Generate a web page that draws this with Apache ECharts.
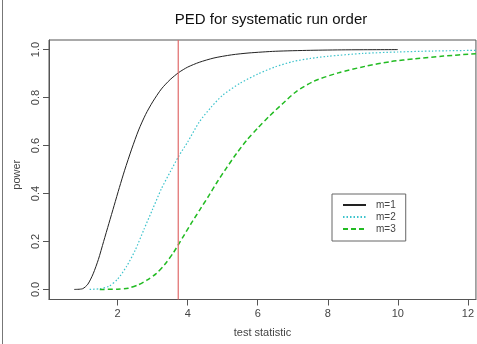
<!DOCTYPE html>
<html>
<head>
<meta charset="utf-8">
<script src="https://cdn.jsdelivr.net/npm/echarts@6/dist/echarts.min.js"></script>
<style>
  html, body { margin: 0; padding: 0; background: #fff; }
  #chart { width: 477px; height: 344px; }
</style>
</head>
<body>
<div id="chart"></div>
<script>
// values
const m1X = [0.76, 1.0, 1.15, 1.3, 1.45, 1.6, 1.75, 1.9, 2.05, 2.2, 2.4, 2.6, 2.8, 3.0, 3.25, 3.5, 3.75, 4.0, 4.33, 4.75, 5.25, 5.75, 6.5, 7.5, 8.5, 10];
const m1Y = [0, 0.003, 0.022, 0.065, 0.125, 0.2, 0.275, 0.35, 0.425, 0.497, 0.585, 0.665, 0.73, 0.782, 0.836, 0.875, 0.905, 0.927, 0.947, 0.965, 0.978, 0.986, 0.993, 0.997, 0.999, 1.0];

const m2X = [1.2, 1.5, 1.75, 2.0, 2.25, 2.5, 2.75, 3.0, 3.25, 3.5, 3.75, 4.0, 4.33, 4.67, 5.0, 5.5, 6.0, 6.5, 7.0, 7.5, 8.0, 9.0, 10, 11, 12.23];
const m2Y = [0, 0.003, 0.013, 0.043, 0.095, 0.163, 0.25, 0.335, 0.42, 0.49, 0.557, 0.615, 0.698, 0.76, 0.81, 0.86, 0.898, 0.928, 0.95, 0.963, 0.972, 0.984, 0.99, 0.994, 0.997];

const m3X = [1.49, 2.0, 2.3, 2.6, 2.85, 3.1, 3.35, 3.6, 3.85, 4.1, 4.35, 4.6, 4.85, 5.1, 5.4, 5.7, 6.0, 6.32, 6.7, 7.1, 7.6, 8.3, 9.06, 9.8, 10.5, 11.3, 12.23];
const m3Y = [0, 0.001, 0.005, 0.02, 0.04, 0.066, 0.105, 0.155, 0.215, 0.275, 0.333, 0.39, 0.45, 0.505, 0.568, 0.625, 0.673, 0.721, 0.773, 0.825, 0.868, 0.903, 0.93, 0.95, 0.962, 0.973, 0.983];

const cutoff = 3.73;
const seriesNames = ["m=1", "m=2", "m=3"];
const xTicks = [2, 4, 6, 8, 10, 12];
const yTicks = [0, 0.2, 0.4, 0.6, 0.8, 1.0];

const xMin = 0.04, xMax = 12.23;
const yMin = -0.042, yMax = 1.04;

const zip = (xs, ys) => xs.map((x, i) => [x, ys[i]]);

const axisColor = "#555";
const textColor = "#444";
const font = "'Liberation Sans', Arial, sans-serif";

const chart = echarts.init(document.getElementById("chart"), null, { renderer: "canvas" });

chart.setOption({
  animation: false,
  backgroundColor: "#fff",
  title: {
    text: "PED for systematic run order",
    left: 266,
    top: 7,
    textAlign: "center",
    textStyle: { fontFamily: font, fontSize: 15, fontWeight: "normal", color: "#111" },
  },
  grid: {
    left: 49,
    right: -1,
    top: 40,
    bottom: 44.5,
    show: true,
    borderColor: axisColor,
    borderWidth: 1,
    containLabel: false,
  },
  legend: {
    data: seriesNames,
    orient: "vertical",
    left: 332,
    top: 194,
    width: 74,
    padding: [6, 10, 7, 10],
    itemWidth: 23,
    itemHeight: 8,
    itemGap: 2,
    borderColor: "#666",
    borderWidth: 1,
    itemStyle: { opacity: 0 },
    textStyle: { fontFamily: font, fontSize: 10, color: textColor, padding: [0, 0, 0, 5] },
  },
  xAxis: {
    type: "value",
    min: xMin,
    max: xMax,
    name: "test statistic",
    nameLocation: "middle",
    nameGap: 28,
    nameTextStyle: { fontFamily: font, fontSize: 11, color: textColor },
    axisLine: { show: true, onZero: false, lineStyle: { color: axisColor } },
    axisTick: { show: true, length: 6, customValues: xTicks, lineStyle: { color: axisColor } },
    axisLabel: { customValues: xTicks, margin: 9, fontFamily: font, fontSize: 11, color: textColor },
    splitLine: { show: false },
  },
  yAxis: {
    type: "value",
    min: yMin,
    max: yMax,
    name: "power",
    nameLocation: "middle",
    nameGap: 27,
    nameRotate: 90,
    nameTextStyle: { fontFamily: font, fontSize: 11, color: textColor, padding: [0, 10, 0, 0] },
    axisLine: { show: true, lineStyle: { color: axisColor } },
    axisTick: { show: true, length: 6, customValues: yTicks, lineStyle: { color: axisColor } },
    axisLabel: {
      customValues: yTicks,
      rotate: 90,
      margin: 8,
      fontFamily: font,
      fontSize: 11,
      color: textColor,
      formatter: (v) => v.toFixed(1),
    },
    splitLine: { show: false },
  },
  series: [
    {
      name: seriesNames[0],
      type: "line",
      data: zip(m1X, m1Y),
      smooth: 0.25,
      symbol: "none",
      lineStyle: { color: "#222", width: 1 },
      itemStyle: { color: "#222" },
    },
    {
      name: seriesNames[1],
      type: "line",
      data: zip(m2X, m2Y),
      smooth: 0.25,
      symbol: "none",
      lineStyle: { color: "#3cc3cc", width: 1.2, type: [1.5, 2] },
      itemStyle: { color: "#3cc3cc" },
    },
    {
      name: seriesNames[2],
      type: "line",
      data: zip(m3X, m3Y),
      smooth: 0.25,
      symbol: "none",
      lineStyle: { color: "#22bb22", width: 1.5, type: [5, 3] },
      itemStyle: { color: "#22bb22" },
    },
    {
      name: "cutoff",
      type: "line",
      data: [[cutoff, yMin], [cutoff, yMax]],
      symbol: "none",
      silent: true,
      lineStyle: { color: "#e06a6a", width: 1.2 },
      itemStyle: { color: "#e06a6a" },
    },
  ],
  graphic: [
    {
      type: "line",
      shape: { x1: 2.5, y1: 0, x2: 2.5, y2: 344 },
      style: { stroke: "#777", lineWidth: 1 },
      silent: true,
    },
  ],
});
</script>
</body>
</html>
